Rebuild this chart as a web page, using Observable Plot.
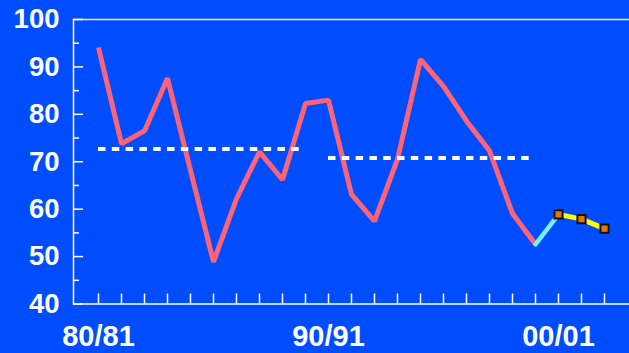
<!DOCTYPE html>
<html>
<head>
<meta charset="utf-8">
<script src="https://cdn.jsdelivr.net/npm/d3@7"></script>
<script src="https://cdn.jsdelivr.net/npm/@observablehq/plot@0.6"></script>
<style>
  html, body { margin: 0; padding: 0; background: #004dff; }
  #chart svg { display: block; }
</style>
</head>
<body>
<div id="chart"></div>
<script>
// Seasons on the x axis
const seasons = [
  "80/81", "81/82", "82/83", "83/84", "84/85", "85/86", "86/87", "87/88",
  "88/89", "89/90", "90/91", "91/92", "92/93", "93/94", "94/95", "95/96",
  "96/97", "97/98", "98/99", "99/00", "00/01", "01/02", "02/03"
];
// Recorded values, 80/81 – 99/00
const recorded = [
  94.1, 73.8, 76.5, 87.6, 68.2, 48.9, 62.2, 72.1, 66.2, 82.3,
  83.0, 63.1, 57.5, 70.5, 91.6, 85.9, 78.6, 72.3, 59.1, 52.6
];
// Later values, 00/01 – 02/03
const later = [58.9, 57.9, 55.9];
// Decade averages
const decadeFrom = ["80/81", "90/91"];
const decadeTo = ["89/90", "99/00"];
const decadeMean = [72.7, 70.8];
// Axis ticks
const yTicks = [40, 50, 60, 70, 80, 90, 100];
const yMinorTicks = [45, 55, 65, 75, 85, 95];
const xTickLabels = ["80/81", "90/91", "00/01"];

const recordedRows = recorded.map((value, i) => ({season: seasons[i], value}));
const laterRows = later.map((value, i) => ({season: seasons[recorded.length + i], value}));
const bridgeRows = [recordedRows[recordedRows.length - 1], laterRows[0]];
const decadeRows = decadeMean.map((mean, i) => ({from: decadeFrom[i], to: decadeTo[i], mean}));

const bg = "#004dff";
const font = "'Liberation Sans', Arial, Helvetica, sans-serif";

const chart = Plot.plot({
  width: 629,
  height: 353,
  marginLeft: 73,
  marginRight: 0,
  marginTop: 19,
  marginBottom: 49.5,
  style: {background: bg, color: "white", fontFamily: font, fontWeight: "bold"},
  x: {type: "point", domain: seasons, padding: 1.06, label: null},
  y: {domain: [40, 100], label: null},
  marks: [
    // frame lines
    Plot.ruleY([40], {stroke: "white", strokeWidth: 1.5}),
    Plot.ruleY([100], {stroke: "#e8ecf8", strokeWidth: 1.5}),
    Plot.frame({anchor: "left", stroke: "white", strokeWidth: 1.5}),
    // inward tick marks
    Plot.ruleX(seasons, {stroke: "white", strokeWidth: 1.5, insetTop: 274.5}),
    Plot.ruleY(yTicks, {stroke: "white", strokeWidth: 1.5, insetRight: 546}),
    Plot.ruleY(yMinorTicks, {stroke: "white", strokeWidth: 1.5, insetRight: 550}),
    // tick labels
    Plot.axisY({ticks: yTicks, tickSize: 0, tickPadding: 14, fontSize: 27.5, fontWeight: "bold", label: null}),
    Plot.axisX({ticks: xTickLabels, tickSize: 0, tickPadding: 21, fontSize: 29, fontWeight: "bold", label: null}),
    // series
    Plot.lineY(recordedRows, {x: "season", y: "value", stroke: "#ff6476", strokeWidth: 5, strokeLinejoin: "miter", strokeLinecap: "butt"}),
    Plot.lineY(bridgeRows, {x: "season", y: "value", stroke: "#78f0f0", strokeWidth: 4.5, strokeLinecap: "round"}),
    Plot.lineY(laterRows, {x: "season", y: "value", stroke: "#ffff00", strokeWidth: 5}),
    Plot.dot(laterRows, {x: "season", y: "value", symbol: "square", r: 4.6, fill: "#e07800", stroke: "#111", strokeWidth: 2}),
    // decade averages
    Plot.ruleY(decadeRows, {x1: "from", x2: "to", y: "mean", stroke: "white", strokeWidth: 4, strokeDasharray: "7.5,6.3"})
  ]
});

document.getElementById("chart").appendChild(chart);
</script>
</body>
</html>
